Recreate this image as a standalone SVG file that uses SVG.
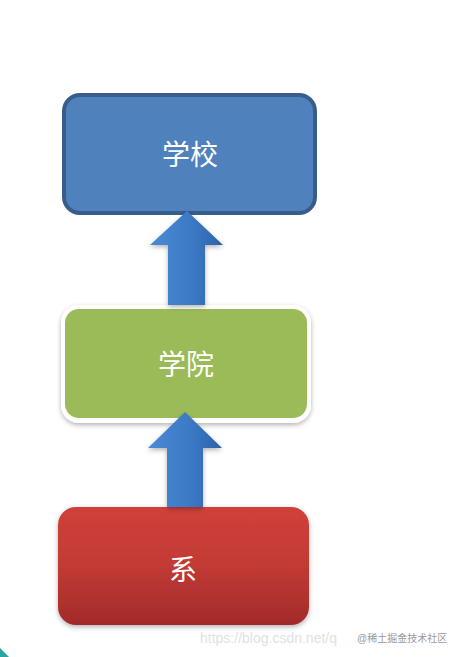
<svg xmlns="http://www.w3.org/2000/svg" width="457" height="657" viewBox="0 0 457 657">
<defs>
<style>
.lbl{font-family:"Liberation Serif","Noto Sans CJK SC",serif;font-size:28px;fill:#ffffff;text-anchor:middle;dominant-baseline:central}
.arrow{fill:url(#arrowGrad)}
</style>
<linearGradient id="arrowGrad" x1="0" y1="0" x2="1" y2="0">
<stop offset="0" stop-color="#4a8ad4"/>
<stop offset="0.6" stop-color="#3b78c4"/>
<stop offset="1" stop-color="#2b62a8"/>
</linearGradient>
<linearGradient id="redGrad" x1="0" y1="0" x2="0" y2="1">
<stop offset="0" stop-color="#d0403a"/>
<stop offset="0.5" stop-color="#c23a35"/>
<stop offset="1" stop-color="#a22b29"/>
</linearGradient>
<filter id="shadow" x="-10%" y="-10%" width="120%" height="130%">
<feDropShadow dx="0" dy="2" stdDeviation="2.5" flood-color="#000" flood-opacity="0.3"/>
</filter>
</defs>
<rect width="457" height="657" fill="#ffffff"/>
<g id="school">
<rect x="64" y="95" width="251" height="118" rx="16" fill="#4f81bd" stroke="#385d8a" stroke-width="4"/>
<text class="lbl" x="190" y="155">学校</text>
</g>
<g id="college">
<rect x="61" y="305" width="250" height="118" rx="18" fill="#ffffff" filter="url(#shadow)"/>
<rect x="65" y="309" width="242" height="109" rx="14" fill="#9bbb59"/>
<text class="lbl" x="186" y="365">学院</text>
</g>
<g id="department">
<rect x="58" y="507" width="251" height="118" rx="18" fill="url(#redGrad)" filter="url(#shadow)"/>
<text class="lbl" x="183" y="570">系</text>
</g>
<g id="connectors">
<path class="arrow" filter="url(#shadow)" d="M168,305 L168,245 L150,245 L187,211 L223,245 L205,245 L205,305 Z"/>
<path class="arrow" filter="url(#shadow)" d="M167,507 L167,448 L148,448 L185,412 L222,448 L203,448 L203,507 Z"/>
</g>
<g id="watermark">
<text x="200" y="643" font-family="Liberation Sans, sans-serif" font-size="14" fill="#e2e2e2">https://blog.csdn.net/q</text>
<text x="357" y="642" font-family="Liberation Sans, Noto Sans CJK SC, sans-serif" font-size="10" fill="#9a9a9a">@稀土掘金技术社区</text>
</g>
<path d="M0,648 L9,657 L0,657 Z" fill="#2aa6a0"/>
</svg>
